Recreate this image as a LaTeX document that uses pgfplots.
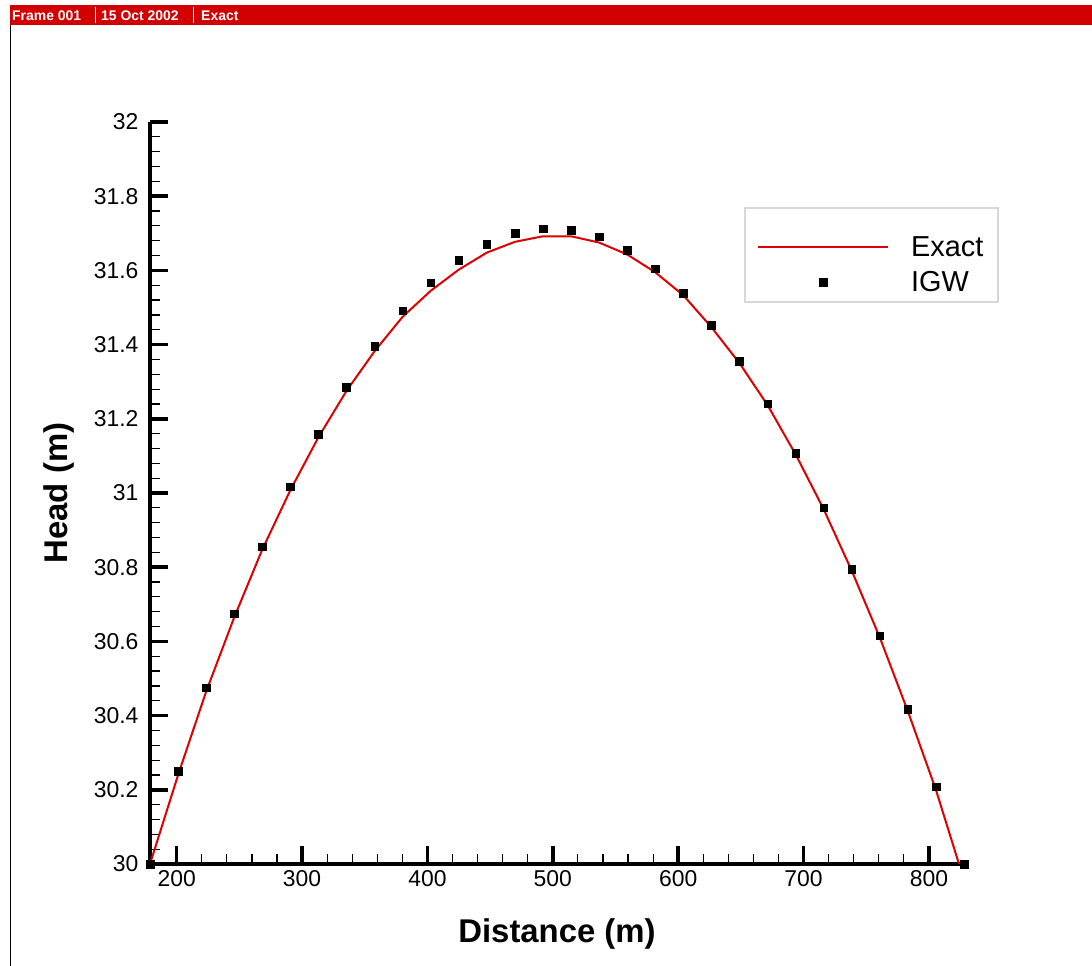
\documentclass[border=0pt]{standalone}
\usepackage{fontspec}
\setmainfont{Liberation Sans}
\usepackage{pgfplots}
\usepackage{pgfplotstable}
\pgfplotsset{compat=1.18}
\definecolor{framered}{RGB}{210,0,0}
\definecolor{exactred}{RGB}{220,0,0}
\definecolor{legframe}{RGB}{215,215,215}

\pgfplotsset{
  linelegend/.style={legend image code/.code={\draw[##1] (0bp,0bp) -- (130bp,0bp);}},
  marklegend/.style={legend image code/.code={\draw[##1, mark repeat=2, mark phase=2] plot coordinates {(0bp,0bp) (65bp,0bp) (130bp,0bp)};}},
}

% exact solution
\pgfplotstableread{
x      h
178.7  30.000
201.1  30.240
223.5  30.465
245.9  30.665
268.3  30.848
290.7  31.008
313.0  31.150
335.4  31.275
357.8  31.382
380.2  31.475
402.6  31.545
425.0  31.602
447.4  31.648
469.8  31.677
492.2  31.692
514.6  31.692
537.0  31.675
559.3  31.643
581.7  31.595
604.1  31.533
626.5  31.447
648.9  31.350
671.3  31.237
693.7  31.104
716.1  30.956
738.5  30.790
760.9  30.610
783.2  30.412
805.6  30.200
824.0  30.000
}\exact

% IGW points
\pgfplotstableread{
x      h
178.7  30.000
201.1  30.250
223.5  30.475
245.9  30.675
268.3  30.855
290.7  31.017
313.0  31.158
335.4  31.285
357.8  31.396
380.2  31.491
402.6  31.567
425.0  31.627
447.4  31.671
469.8  31.700
492.2  31.712
514.6  31.709
537.0  31.691
559.3  31.655
581.7  31.605
604.1  31.538
626.5  31.452
648.9  31.355
671.3  31.241
693.7  31.108
716.1  30.960
738.5  30.795
760.9  30.615
783.2  30.418
805.6  30.208
828.0  30.000
}\igw

\begin{document}
\begin{tikzpicture}
\path[use as bounding box] (0bp,0bp) rectangle (1092bp,-966bp);
% frame header
\fill[framered] (10bp,-5bp) rectangle (1092bp,-25bp);
\draw[line width=1.3bp] (10.6bp,-25bp) -- (10.6bp,-966bp);
\begin{scope}[every node/.style={anchor=base west, inner sep=0, text=white, font=\fontsize{14}{16}\selectfont\bfseries}]
\node at (12bp,-20bp) {Frame 001};
\node at (101bp,-20bp) {15 Oct 2002};
\node at (201bp,-20bp) {Exact};
\draw[white, line width=0.8bp] (95bp,-7bp) -- (95bp,-23bp);
\draw[white, line width=0.8bp] (193bp,-7bp) -- (193bp,-23bp);
\end{scope}
% legend frame
\draw[legframe, line width=1.2bp] (745bp,-208bp) rectangle (998bp,-302bp);

\begin{axis}[
  at={(150bp,-864bp)}, anchor=south west,
  scale only axis, width=814bp, height=742bp,
  xmin=178.7, xmax=828, ymin=30, ymax=32,
  axis lines=left,
  axis line style={-, line width=3.5bp},
  tick align=inside,
  xtick={200,300,400,500,600,700,800},
  ytick={30,30.2,30.4,30.6,30.8,31,31.2,31.4,31.6,31.8,32},
  minor tick num=4,
  major tick length=18bp, minor tick length=10bp,
  every major tick/.append style={line width=3.5bp, black},
  every minor tick/.append style={line width=1.2bp, black},
  tick label style={font=\fontsize{23}{27}\selectfont},
  /pgf/number format/assume math mode=true,
  yticklabel style={xshift=-8bp},
  xticklabel style={yshift=-3bp},
  xlabel={\bfseries Distance (m)},
  ylabel={\bfseries Head (m)},
  label style={font=\fontsize{33}{38}\selectfont},
  xlabel style={at={(axis description cs:0.5,0)}, anchor=base, yshift=-78bp},
  ylabel style={at={(axis description cs:0,0.5)}, anchor=base, yshift=82bp},
  clip=false,
  legend cell align=left,
  legend style={at={(axis description cs:0.7457,0.8598)}, anchor=north west,
    draw=none, fill=none, font=\fontsize{29}{34}\selectfont,
    inner xsep=0bp, inner ysep=8bp, row sep=10bp,
    nodes={inner xsep=22bp}},
]
\addplot[exactred, line width=2bp, linelegend] table[x=x, y=h] {\exact};
\addlegendentry{Exact}
\addplot[only marks, mark=square*, mark size=3.8bp, black, marklegend] table[x=x, y=h] {\igw};
\addlegendentry{IGW}
\end{axis}
\end{tikzpicture}
\end{document}
